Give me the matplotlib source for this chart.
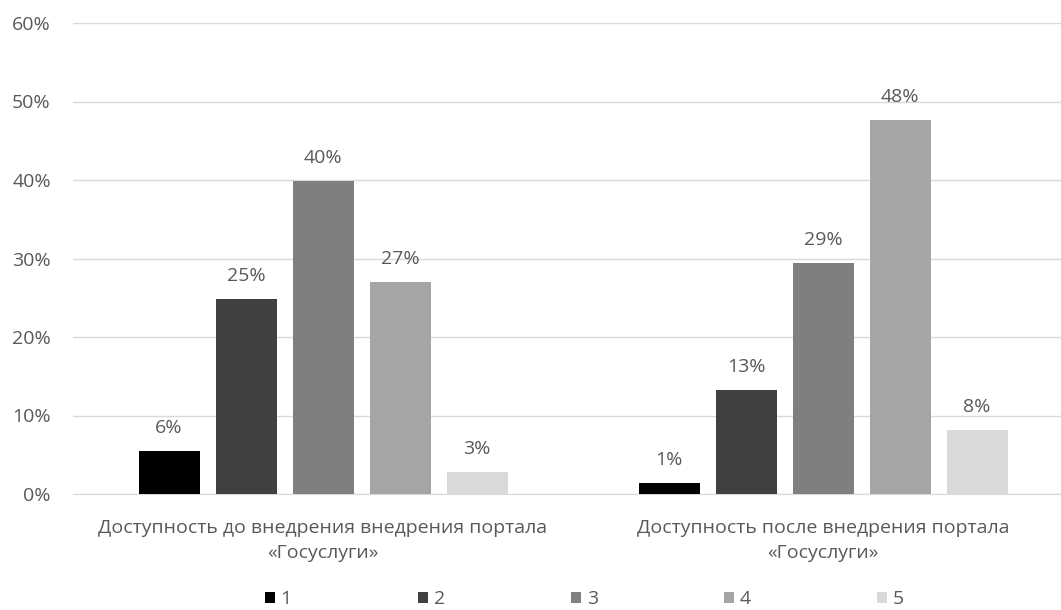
import numpy as np
import matplotlib.pyplot as plt
from matplotlib.ticker import PercentFormatter

plt.rcParams['font.family'] = ['Open Sans', 'DejaVu Sans']
plt.rcParams['font.size'] = 14

categories = ["Доступность до внедрения внедрения портала\n«Госуслуги»",
              "Доступность после внедрения портала\n«Госуслуги»"]
series = ["1", "2", "3", "4", "5"]
values = [
    [5.5, 1.4],
    [24.8, 13.2],
    [39.9, 29.4],
    [27.0, 47.6],
    [2.8, 8.2],
]
colors = ["#000000", "#404040", "#7f7f7f", "#a5a5a5", "#d9d9d9"]
text_col = "#595959"

fig = plt.figure(figsize=(10.61, 6.10), dpi=100)
ax = fig.add_axes([73 / 1061, 1 - 494 / 610, 1000 / 1061, 471 / 610])

x = np.arange(len(categories))
width = 0.122
step = 0.154
for i, (name, vals, c) in enumerate(zip(series, values, colors)):
    pos = x + (i - 2) * step
    bars = ax.bar(pos, vals, width, color=c, label=name, zorder=3)
    for b, v in zip(bars, vals):
        ax.text(b.get_x() + b.get_width() / 2, v + 1.8, f"{round(v)}%",
                ha="center", va="bottom", color=text_col)

ax.set_xlim(-0.5, 1.5)
ax.set_ylim(0, 60)
ax.set_yticks(np.arange(0, 61, 10))
ax.yaxis.set_major_formatter(PercentFormatter(decimals=0))
ax.grid(axis="y", color="#d9d9d9", lw=1, zorder=0)
ax.set_xticks(x)
ax.set_xticklabels(categories, color=text_col, linespacing=1.5)
ax.tick_params(axis="y", colors=text_col, length=0, pad=16)
ax.tick_params(axis="x", length=0, pad=18)
for s in ["top", "right", "left"]:
    ax.spines[s].set_visible(False)
ax.spines["bottom"].set_color("#d9d9d9")

fig.legend(loc="lower center", bbox_to_anchor=(0.551, -0.026), ncol=5,
           frameon=False, handlelength=0.5, handleheight=0.5,
           handletextpad=0.3, columnspacing=6.5, labelcolor=text_col)

fig.savefig("out.png", dpi=100)
